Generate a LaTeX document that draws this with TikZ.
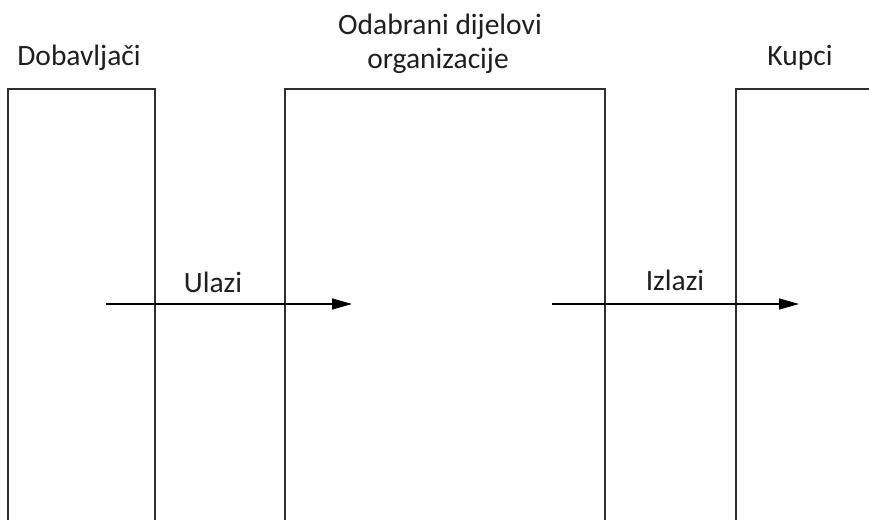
\documentclass[tikz,border=0pt]{standalone}
\usepackage{fontspec}
\setmainfont{Carlito}
\usetikzlibrary{arrows.meta}
\definecolor{linec}{HTML}{2E2E2E}
\definecolor{textc}{HTML}{1F1F1F}
\begin{document}
\begin{tikzpicture}[x=1pt,y=-1pt,
  lbl/.style={anchor=base,inner sep=0pt,text=textc,font=\fontsize{29.5}{35}\selectfont},
  wall/.style={draw=linec,line width=1.8pt},
  flow/.style={draw=black,line width=1.3pt,-{Triangle[length=20pt,width=11pt]}}]
\useasboundingbox (0,0) rectangle (869,519);
% open rectangles (extend past the bottom edge)
\draw[wall] (8,525) -- (8,89) -- (155,89) -- (155,525);
\draw[wall] (285,525) -- (285,89) -- (605,89) -- (605,525);
\draw[wall] (736,525) -- (736,89) -- (875,89);
% labels
\node[lbl] (dob) at (79,66) {Dobavljači};
\node[lbl] (oda1) at (440,35) {Odabrani dijelovi};
\node[lbl] (oda2) at (438,68) {organizacije};
\node[lbl] (kup) at (800,66) {Kupci};
\node[lbl] (ul) at (213,292) {Ulazi};
\node[lbl] (iz) at (675,290) {Izlazi};
% arrows
\coordinate (a1s) at (106,304);
\coordinate (a1e) at (352,304);
\coordinate (a2s) at (552,304);
\coordinate (a2e) at (799,304);
\draw[flow] (a1s) -- (a1e);
\draw[flow] (a2s) -- (a2e);
\end{tikzpicture}
\end{document}
